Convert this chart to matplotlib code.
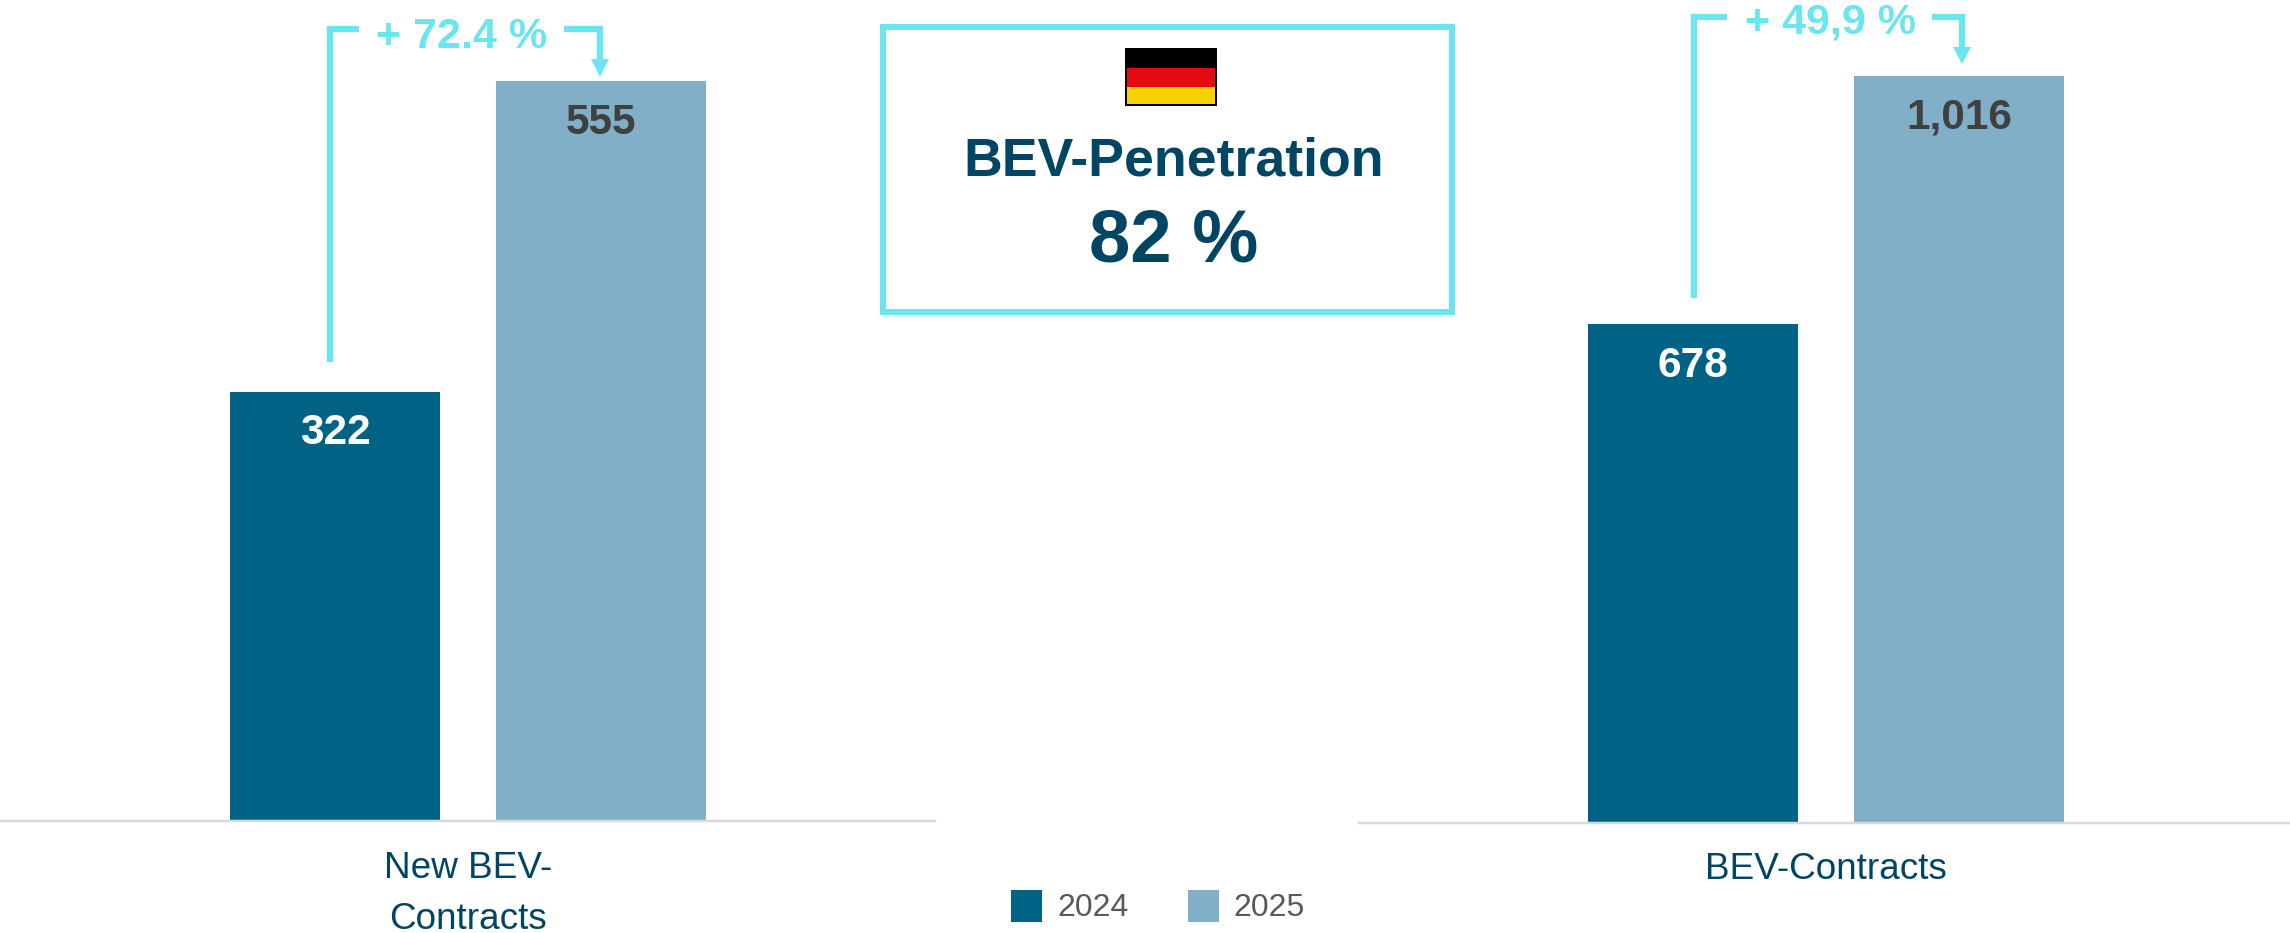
import matplotlib
matplotlib.use("Agg")
import matplotlib.pyplot as plt
from matplotlib.patches import Polygon, Rectangle

plt.rcParams['font.family'] = ['Liberation Sans', 'DejaVu Sans']

# --- data ---
years = ['2024', '2025']
panel_left_values = [322, 555]
panel_right_values = [678, 1016]
panel_left_labels = ['322', '555']
panel_right_labels = ['678', '1,016']
panel_left_category = 'New BEV-\nContracts'
panel_right_category = 'BEV-Contracts'
change_left = '+ 72.4 %'
change_right = '+ 49,9 %'
box_title = 'BEV-Penetration'
box_value = '82 %'

# --- styles ---
C_DARK = '#006385'
C_LIGHT = '#81AFC7'
C_CYAN = '#69E6EF'
C_NAVY = '#004563'
C_VAL = '#404040'
C_LINE = '#D9D9D9'
C_LEG = '#595959'
W, H = 2290, 933
PX = 0.72  # points per pixel at dpi 100

fig = plt.figure(figsize=(W / 100, H / 100), dpi=100, facecolor='white')


def panel(x0, x1, y_base, xlim, ylim, values, labels, category, pad):
    ax = fig.add_axes([x0 / W, 1 - y_base / H, (x1 - x0) / W, y_base / H])
    ax.set_xlim(*xlim)
    ax.set_ylim(0, ylim)
    ax.patch.set_alpha(0)
    for i, (v, lab, yr, col, tc) in enumerate(
            zip(values, labels, years, [C_DARK, C_LIGHT], ['white', C_VAL])):
        ax.bar(i, v, width=0.789, color=col, label=yr, linewidth=0)
        ax.annotate(lab, (i, v), xytext=(0, -52.5 * PX), textcoords='offset points',
                    ha='center', va='baseline', fontsize=30.5, fontweight='bold', color=tc)
    for s in ['top', 'left', 'right']:
        ax.spines[s].set_visible(False)
    ax.spines['bottom'].set_color(C_LINE)
    ax.spines['bottom'].set_linewidth(2.5 * PX)
    ax.set_yticks([])
    ax.set_xticks([0.5])
    ax.set_xticklabels([category], fontsize=26.6, color=C_NAVY, linespacing=1.57)
    ax.tick_params(axis='x', length=0, pad=pad)
    return ax


ax_l = panel(0, 935, 820.7, (-1.2594, 2.2556), 820.7 / 1.332,
             panel_left_values, panel_left_labels, panel_left_category, 22)
ax_r = panel(1359, 2290, 822.7, (-1.2556, 2.244), 822.7 / 0.735,
             panel_right_values, panel_right_labels, panel_right_category, 21)

handles, leg_labels = ax_l.get_legend_handles_labels()
fig.legend(handles, leg_labels, loc='center left',
           bbox_to_anchor=(1011 / W, 1 - 906.5 / H), ncol=2, frameon=False,
           fontsize=23, labelcolor=C_LEG, borderpad=0, borderaxespad=0,
           handlelength=0.97, handleheight=1.16, handletextpad=0.47,
           columnspacing=1.86)

# --- overlay in pixel coordinates for annotations ---
ov = fig.add_axes([0, 0, 1, 1], zorder=5)
ov.set_xlim(0, W)
ov.set_ylim(H, 0)
ov.axis('off')
ov.patch.set_alpha(0)

LW = 6.3 * PX


def bracket(xv, y_low, y_top, x_a, x_b, x_c, y_arrow, y_tip, text, xt, yt):
    ov.plot([xv, xv, x_a], [y_low, y_top, y_top], color=C_CYAN, lw=LW,
            solid_capstyle='butt', solid_joinstyle='miter')
    ov.plot([x_b, x_c, x_c], [y_top, y_top, y_arrow + 1], color=C_CYAN, lw=LW,
            solid_capstyle='butt', solid_joinstyle='miter')
    ov.add_patch(Polygon([[x_c - 9, y_arrow], [x_c + 9, y_arrow], [x_c, y_tip]],
                         closed=True, facecolor=C_CYAN, edgecolor='none'))
    ov.text(xt, yt, text, ha='center', va='baseline', fontsize=31, fontweight='bold',
            color=C_CYAN)


bracket(330, 362, 29.3, 359, 564, 600, 59, 77, change_left, 462, 47.7)
bracket(1694, 298, 16.8, 1727, 1932, 1962, 47, 64, change_right, 1830.5, 33)

# --- central box ---
ov.add_patch(Rectangle((883, 27), 569, 285, facecolor='white', edgecolor=C_CYAN,
                       linewidth=6 * PX, joinstyle='miter'))
ov.add_patch(Rectangle((1124.5, 47.7), 92.5, 58.3, facecolor='black', edgecolor='none'))
ov.add_patch(Rectangle((1126.5, 68), 88.5, 18.7, facecolor='#E30A13', edgecolor='none'))
ov.add_patch(Rectangle((1126.5, 86.7), 88.5, 17.3, facecolor='#F7D100', edgecolor='none'))
ov.text(1174, 176, box_title, ha='center', va='baseline', fontsize=38.6,
        fontweight='bold', color=C_NAVY)
ov.text(1174, 262, box_value, ha='center', va='baseline', fontsize=53.5,
        fontweight='bold', color=C_NAVY)

fig.savefig('out.png', dpi=100, facecolor='white')
